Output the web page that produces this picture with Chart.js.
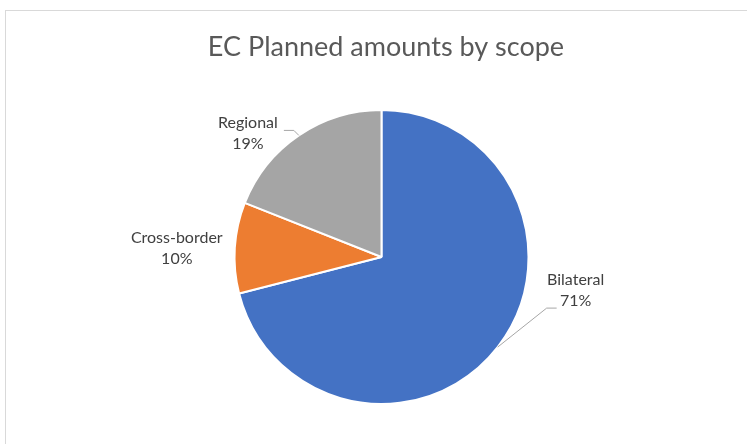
<!DOCTYPE html>
<html>
<head>
<meta charset="utf-8">
<script src="https://cdn.jsdelivr.net/npm/chart.js@4"></script>
<style>
  html, body { margin: 0; padding: 0; background: #fff; }
  #wrap { position: relative; width: 747px; height: 444px; }
  #frame { position: absolute; left: 5px; top: 10px; width: 760px; height: 460px; border: 1px solid #d9d9d9; box-sizing: border-box; }
</style>
</head>
<body>
<div id="wrap">
  <div id="frame"></div>
  <canvas id="myChart" width="747" height="444"></canvas>
</div>
<script>
const titulo = "EC Planned amounts by scope";
const categorias = ["Bilateral", "Cross-border", "Regional"];
const valores = [71, 10, 19];
const colores = ["#4472C4", "#ED7D31", "#A5A5A5"];

// where each label sits relative to the slice edge (first line baseline), and its leader line
const etiquetas = [
  { dx: 78, dy: -62, linea: [[49, -39], [59, -39]] },
  { dx: -58, dy: -5, linea: null },
  { dx: -51, dy: -7, linea: [[-5, -5], [-15, -5]] }
];

const fuente = "Lato, 'Open Sans', sans-serif";

const textoPlugin = {
  id: "textoPlugin",
  afterDraw(chart) {
    const ctx = chart.ctx;
    ctx.save();
    ctx.fillStyle = "#595959";
    ctx.font = "27px " + fuente;
    ctx.textAlign = "center";
    ctx.textBaseline = "alphabetic";
    ctx.fillText(titulo, 386, 56);

    const meta = chart.getDatasetMeta(0);
    const total = valores.reduce((a, b) => a + b, 0);
    meta.data.forEach((arc, i) => {
      const mid = (arc.startAngle + arc.endAngle) / 2;
      const px = arc.x + Math.cos(mid) * arc.outerRadius;
      const py = arc.y + Math.sin(mid) * arc.outerRadius;
      const e = etiquetas[i];
      if (e.linea) {
        ctx.strokeStyle = "#a6a6a6";
        ctx.lineWidth = 1;
        ctx.beginPath();
        ctx.moveTo(px, py);
        e.linea.forEach(p => ctx.lineTo(px + p[0], py + p[1]));
        ctx.stroke();
      }
      const lx = px + e.dx;
      const ly = py + e.dy;
      ctx.fillStyle = "#404040";
      ctx.font = "16px " + fuente;
      ctx.fillText(categorias[i], lx, ly);
      ctx.fillText(Math.round(valores[i] / total * 100) + "%", lx, ly + 21);
    });
    ctx.restore();
  }
};

const chart = new Chart("myChart", {
  type: "pie",
  data: {
    labels: categorias,
    datasets: [{
      data: valores,
      backgroundColor: colores,
      borderColor: "#ffffff",
      borderWidth: 2
    }]
  },
  options: {
    responsive: false,
    animation: false,
    layout: { padding: { top: 109, bottom: 39, left: 100, right: 84 } },
    plugins: {
      legend: { display: false },
      tooltip: { enabled: false }
    }
  },
  plugins: [textoPlugin]
});
</script>
</body>
</html>
